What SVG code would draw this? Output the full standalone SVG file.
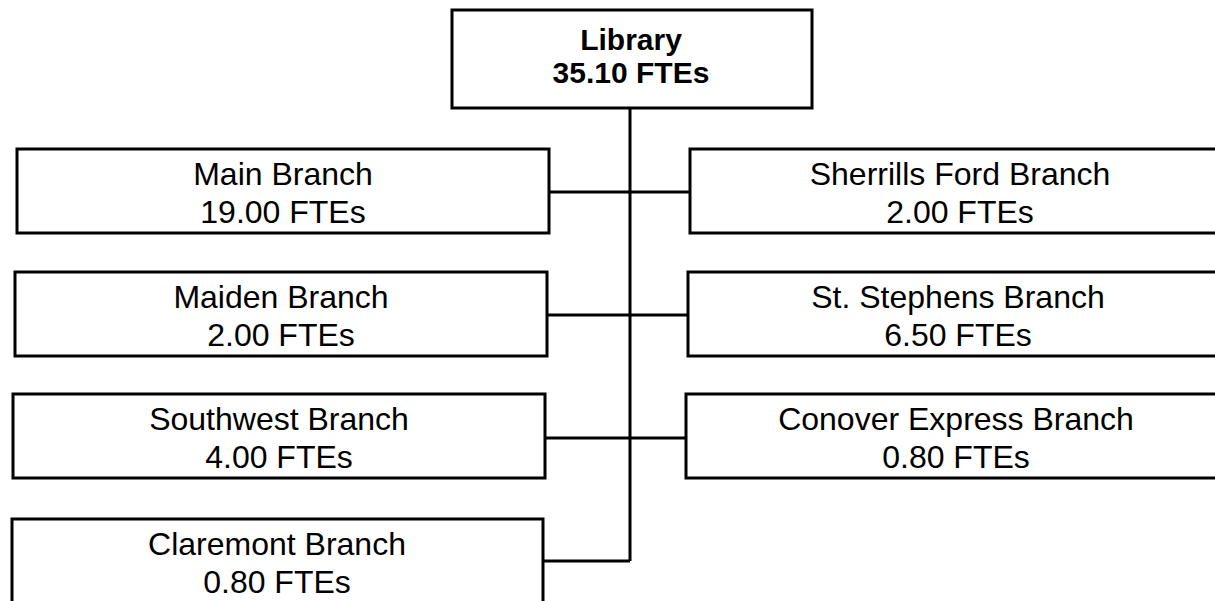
<svg xmlns="http://www.w3.org/2000/svg" width="1215" height="601" viewBox="0 0 1215 601">
<style>
  .box { fill: #ffffff; stroke: #000000; stroke-width: 3; }
  .conn { fill: none; stroke: #000000; stroke-width: 3; }
  .t { font-family: "Liberation Sans", Arial, sans-serif; font-size: 32px; fill: #000000; text-anchor: middle; }
  .tb { font-family: "Liberation Sans", Arial, sans-serif; font-size: 30px; font-weight: bold; fill: #000000; text-anchor: middle; }
</style>
<rect width="1215" height="601" fill="#ffffff"/>
<g id="connectors">
  <line class="conn" x1="630" y1="108" x2="630" y2="561"/>
  <line class="conn" x1="549" y1="192" x2="690" y2="192"/>
  <line class="conn" x1="547" y1="315" x2="688" y2="315"/>
  <line class="conn" x1="545" y1="438" x2="686" y2="438"/>
  <polyline class="conn" points="543,561 630,561"/>
</g>
<g id="library">
  <rect class="box" x="452" y="10" width="360" height="98"/>
  <text class="tb" x="631" y="50">Library</text>
  <text class="tb" x="631" y="83">35.10 FTEs</text>
</g>
<g id="main-branch">
  <rect class="box" x="17" y="149" width="532" height="84"/>
  <text class="t" x="283" y="185">Main Branch</text>
  <text class="t" x="283" y="223">19.00 FTEs</text>
</g>
<g id="sherrills-ford-branch">
  <rect class="box" x="690" y="149" width="545" height="84"/>
  <text class="t" x="960" y="185">Sherrills Ford Branch</text>
  <text class="t" x="960" y="223">2.00 FTEs</text>
</g>
<g id="maiden-branch">
  <rect class="box" x="15" y="272" width="532" height="84"/>
  <text class="t" x="281" y="308">Maiden Branch</text>
  <text class="t" x="281" y="346">2.00 FTEs</text>
</g>
<g id="st-stephens-branch">
  <rect class="box" x="688" y="272" width="547" height="84"/>
  <text class="t" x="958" y="308">St. Stephens Branch</text>
  <text class="t" x="958" y="346">6.50 FTEs</text>
</g>
<g id="southwest-branch">
  <rect class="box" x="13" y="394" width="532" height="84"/>
  <text class="t" x="279" y="430">Southwest Branch</text>
  <text class="t" x="279" y="468">4.00 FTEs</text>
</g>
<g id="conover-express-branch">
  <rect class="box" x="686" y="394" width="549" height="84"/>
  <text class="t" x="956" y="430">Conover Express Branch</text>
  <text class="t" x="956" y="468">0.80 FTEs</text>
</g>
<g id="claremont-branch">
  <rect class="box" x="12" y="519" width="531" height="100"/>
  <text class="t" x="277" y="555">Claremont Branch</text>
  <text class="t" x="277" y="593">0.80 FTEs</text>
</g>
</svg>
